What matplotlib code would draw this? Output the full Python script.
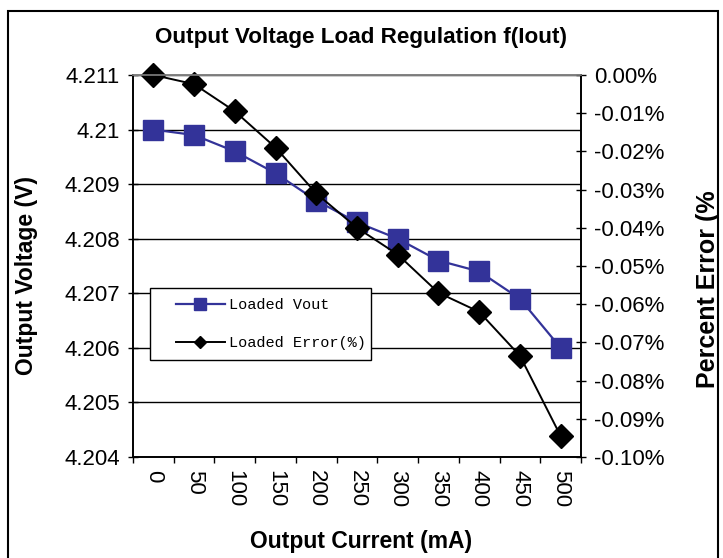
import matplotlib
matplotlib.use("Agg")
import matplotlib.pyplot as plt
from matplotlib.patches import Rectangle
from matplotlib.ticker import FuncFormatter, FixedLocator

plt.rcParams['font.family'] = ['Liberation Sans', 'DejaVu Sans']

# data
corrente = ['0', '50', '100', '150', '200', '250', '300', '350', '400', '450', '500']
vout = [4.2100, 4.2099, 4.2096, 4.2092, 4.2087, 4.2083, 4.2080, 4.2076, 4.2074, 4.2069, 4.2060]
erro = [0.000, -0.0024, -0.0095, -0.0190, -0.0310, -0.0400, -0.0470, -0.0570, -0.0620, -0.0735, -0.0945]

x = list(range(len(corrente)))

fig = plt.figure(figsize=(7.23, 5.58), dpi=100)
ax = fig.add_axes([133/723, 1 - 457/558, 448/723, 382/558])
ax2 = ax.twinx()

ax.plot(x, vout, color='#333399', lw=1.6, marker='s', ms=15,
        mec='#333399', mfc='#333399', label='Loaded Vout', clip_on=False)
ax2.plot(x, erro, color='black', lw=1.4, marker='D', ms=12,
         label='Loaded Error(%)', clip_on=False)

ax.set_xlim(-0.5, len(x) - 0.5)
ax.set_ylim(4.204, 4.211)
ax2.set_ylim(-0.10, 0.0)

# grid on the left axis ticks
ax.yaxis.set_major_locator(FixedLocator([4.204 + 0.001 * i for i in range(8)]))
ax.yaxis.set_major_formatter(FuncFormatter(lambda v, p: '%g' % round(v, 3)))
ax.grid(axis='y', color='black', lw=1)
ax.set_axisbelow(True)


def pct(v, p):
    v = round(v, 2)
    if v == 0:
        return '0.00%'
    return '%.2f%%' % v


ax2.yaxis.set_major_locator(FixedLocator([-0.01 * i for i in range(11)]))
ax2.yaxis.set_major_formatter(FuncFormatter(pct))

# categories: ticks between, labels in the middle
ax.set_xticks([i - 0.5 for i in range(len(x) + 1)])
ax.set_xticklabels([])
ax.set_xticks(x, minor=True)
ax.set_xticklabels(corrente, minor=True, rotation=-90, fontsize=16)
ax.tick_params(axis='x', which='major', direction='out', length=4, width=1)
ax.tick_params(axis='x', which='minor', length=0, pad=9)

ax.tick_params(axis='y', direction='inout', length=7, width=1, labelsize=16, pad=6)
ax2.tick_params(axis='y', direction='inout', length=7, width=1, labelsize=16, pad=6)

for a in (ax, ax2):
    a.spines['top'].set_color('#808080')
    for s in a.spines.values():
        s.set_linewidth(1.2)

ax.set_xlabel('Output Current (mA)', fontsize=16.5, fontweight='bold')
ax.xaxis.set_label_coords(0.509, -0.191)
ax.set_ylabel('Output Voltage (V)', fontsize=16.5, fontweight='bold')
ax.yaxis.set_label_coords(-0.212, 0.474)
ax2.set_ylabel('Percent Error (%', fontsize=18, fontweight='bold')
ax2.yaxis.set_label_coords(1.256, 0.44)

fig.text(361/723, 1 - 37/558, 'Output Voltage Load Regulation f(Iout)',
         ha='center', va='center', fontsize=16.2, fontweight='bold')

# legend box drawn by hand (Excel pads it more on the left)
ax2.add_patch(Rectangle((150/723, 1 - 360/558), 221/723, 72/558,
                        transform=fig.transFigure, facecolor='white',
                        edgecolor='black', lw=1, zorder=5, clip_on=False))
h1, l1 = ax.get_legend_handles_labels()
h2, l2 = ax2.get_legend_handles_labels()
leg = ax2.legend(h1 + h2, l1 + l2, loc='upper left',
                 bbox_to_anchor=(176/723, 1 - 298/558), bbox_transform=fig.transFigure,
                 prop={'family': 'Liberation Mono', 'size': 11},
                 frameon=False, handlelength=3.2, labelspacing=1.6, borderpad=0,
                 borderaxespad=0, handletextpad=0.3, markerscale=0.55)
leg.set_zorder(6)

# border round the whole chart
fig.patches.append(Rectangle((8/723, -0.05), 710/723, 1.05 - 11/558,
                             transform=fig.transFigure, fill=False,
                             edgecolor='black', lw=1.5))

fig.savefig('out.png', dpi=100)
